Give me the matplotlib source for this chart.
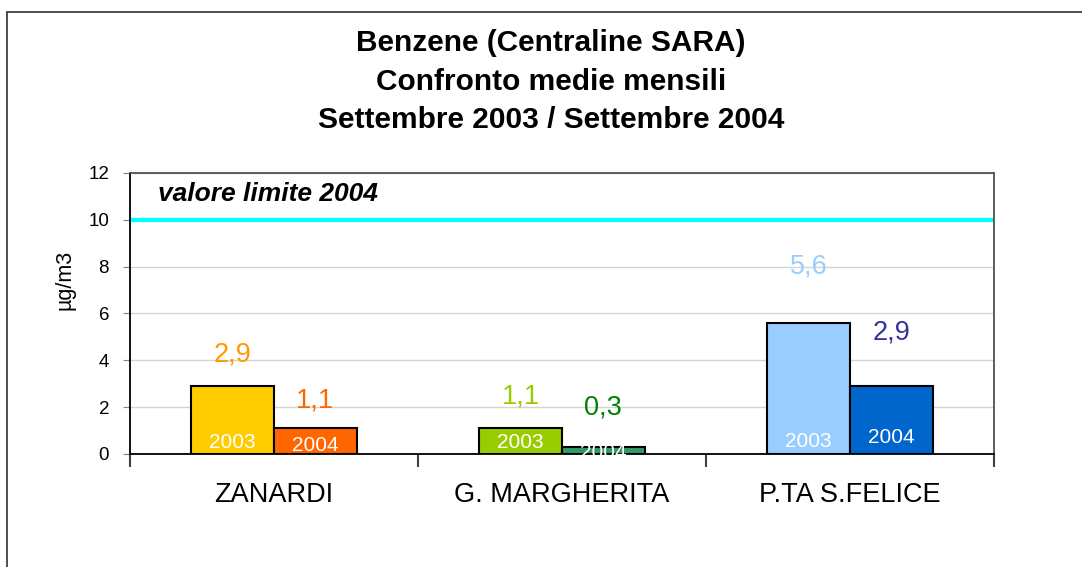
"""
Benzene monthly means, Sept 2003 vs Sept 2004 (SARA stations).
"""

import numpy as np
import matplotlib.pyplot as plt
from matplotlib.patches import Rectangle

plt.rcParams['font.family'] = ['Liberation Sans', 'DejaVu Sans']

stations = ['ZANARDI', 'G. MARGHERITA', 'P.TA S.FELICE']
values_2003 = [2.9, 1.1, 5.6]
values_2004 = [1.1, 0.3, 2.9]
labels_2003 = ['2,9', '1,1', '5,6']
labels_2004 = ['1,1', '0,3', '2,9']
colors_2003 = ['#FFCC00', '#99CC00', '#99CCFF']
colors_2004 = ['#FF6600', '#339966', '#0066CC']
text_colors_2003 = ['#FF9900', '#99CC00', '#99CCFF']
text_colors_2004 = ['#FF6600', '#008000', '#333399']
# label positions were set by hand in the original (data units)
offset_2003 = [1.35, 1.35, 2.4]
offset_2004 = [1.2, 1.7, 2.3]
inner_y_2003 = [0.5, 0.5, 0.55]
inner_y_2004 = [0.38, 0.05, 0.72]
limit_value = 10
y_ticks = [0, 2, 4, 6, 8, 10, 12]

fig = plt.figure(figsize=(10.82, 5.67), dpi=100)
ax = fig.add_axes([0.1201, 0.1993, 0.7985, 0.4956])

x = np.arange(len(stations))
w = 0.288

ax.bar(x - w / 2, values_2003, width=w, color=colors_2003, edgecolor='black', linewidth=1.5, zorder=3)
ax.bar(x + w / 2, values_2004, width=w, color=colors_2004, edgecolor='black', linewidth=1.5, zorder=3)

for i in range(len(stations)):
    ax.text(x[i] - w / 2, values_2003[i] + offset_2003[i], labels_2003[i], ha='center', va='center',
            fontsize=19.5, color=text_colors_2003[i], zorder=4)
    ax.text(x[i] + w / 2, values_2004[i] + offset_2004[i], labels_2004[i], ha='center', va='center',
            fontsize=19.5, color=text_colors_2004[i], zorder=4)
    ax.text(x[i] - w / 2, inner_y_2003[i], '2003', ha='center', va='center', fontsize=15, color='white', zorder=4)
    ax.text(x[i] + w / 2, inner_y_2004[i], '2004', ha='center', va='center', fontsize=15, color='white', zorder=4)

ax.axhline(limit_value, color='#00FFFF', linewidth=3, zorder=2)
ax.text(0.032, 11.1, 'valore limite 2004', transform=ax.get_yaxis_transform(), ha='left', va='center',
        fontsize=19, fontweight='bold', fontstyle='italic', color='black')

ax.set_xlim(-0.5, len(stations) - 0.5)
ax.set_ylim(0, 12)
ax.set_yticks(y_ticks)
ax.set_yticklabels([str(t) for t in y_ticks], fontsize=13.5)
ax.yaxis.grid(True, color='#D4D4D4', linewidth=1, zorder=0)
ax.set_axisbelow(True)
ax.tick_params(axis='y', direction='out', length=5, color='#808080', pad=10)

ax.set_xticks(x)
ax.set_xticklabels(stations, fontsize=19.5)
ax.tick_params(axis='x', which='major', length=0, pad=20)
ax.set_xticks(np.arange(len(stations) + 1) - 0.5, minor=True)
ax.tick_params(axis='x', which='minor', direction='out', length=9, width=1.5, color='#404040')

ax.set_ylabel('µg/m3', fontsize=15.5, va='center')
ax.yaxis.set_label_coords(-0.075, 0.62)

for side in ['left', 'bottom']:
    ax.spines[side].set_color('black')
    ax.spines[side].set_linewidth(1.3)
for side in ['top', 'right']:
    ax.spines[side].set_color('#505050')
    ax.spines[side].set_linewidth(1.3)

title_lines = ['Benzene (Centraline SARA)', 'Confronto medie mensili', 'Settembre 2003 / Settembre 2004']
for k, line in enumerate(title_lines):
    fig.text(0.509, 1 - (43 + 38.5 * k) / 567, line, ha='center', va='center', fontsize=21.5, fontweight='bold')

# outer chart border (only left and top visible in the crop)
fig.patches.append(Rectangle((7 / 1082, -0.2), 1.5, 1.2 - 12 / 567, transform=fig.transFigure,
                             fill=False, edgecolor='#303030', linewidth=1.2))

fig.savefig('out.png', dpi=100)
